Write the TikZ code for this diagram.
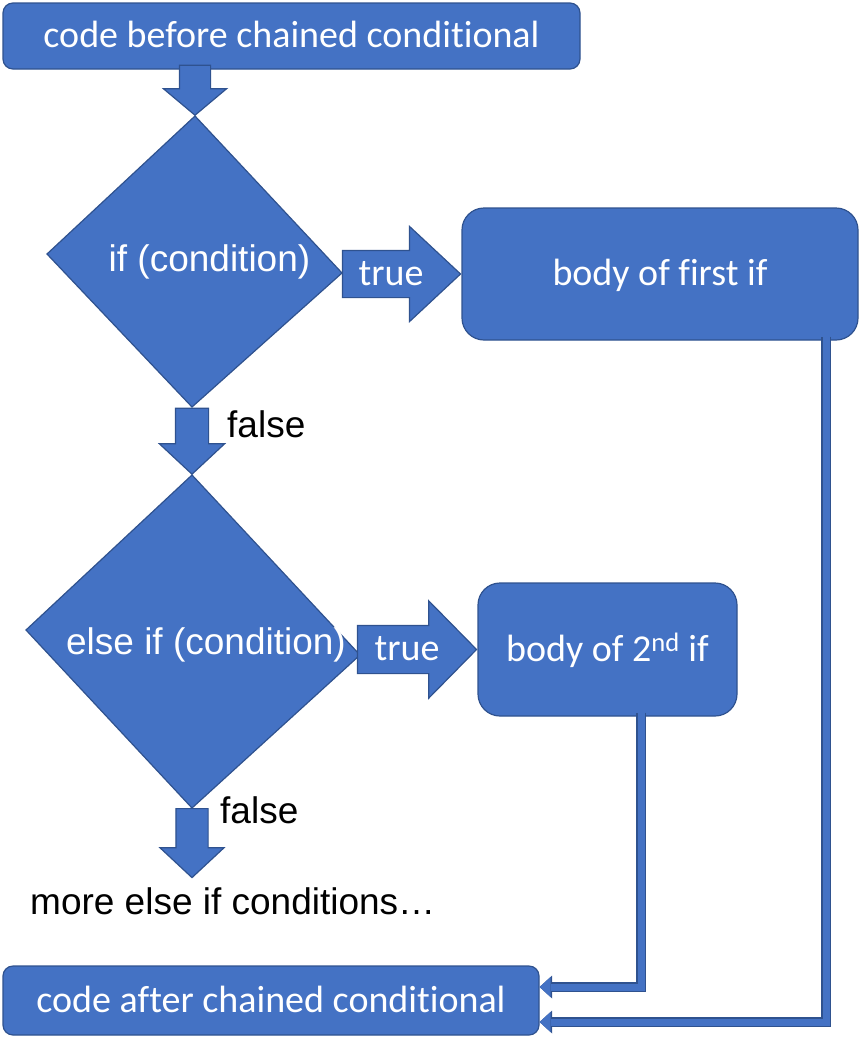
\documentclass[tikz,border=0pt]{standalone}
\usepackage{fontspec}
\setmainfont{Carlito}[Ligatures=NoCommon]
\newfontfamily\arialfont{Liberation Sans}
\usetikzlibrary{positioning,shapes.arrows,arrows.meta}

\definecolor{boxblue}{HTML}{4472C4}
\definecolor{edgeblue}{HTML}{2F528F}

\tikzset{
  codebox/.style={draw=edgeblue, fill=boxblue, line width=1.2pt, rounded corners=10pt,
    text=white, font=\fontsize{38}{42}\selectfont, text height=24pt, text depth=1pt, inner sep=0pt},
  bodybox/.style={codebox, rounded corners=22pt},
  decision/.style={draw=edgeblue, fill=boxblue, line width=1.2pt},
  condtext/.style={text=white, font=\arialfont\fontsize{37}{40}\selectfont, anchor=base, inner sep=0pt},
  plaintext/.style={text=black, font=\arialfont\fontsize{37}{40}\selectfont, anchor=base west, inner sep=0pt},
  truetext/.style={text=white, font=\fontsize{38}{42}\selectfont, anchor=base, inner sep=0pt},
  blockarrow/.style={single arrow, draw=edgeblue, fill=boxblue, line width=1.2pt, inner sep=0pt, text depth=0pt},
  link/.style={draw=boxblue, line width=7pt, -{Triangle[length=11pt,width=20pt,line width=0pt]},
    preaction={draw=edgeblue, line width=9.4pt, -{Triangle[length=12.5pt,width=23pt,line width=0pt]}}}
}

\begin{document}
\begin{tikzpicture}[x=1pt, y=-1pt]
	\useasboundingbox (0,0) rectangle (860,1045);
	
	\node[codebox, minimum width=577pt, minimum height=66pt] (before) at (291.5,36) {code before chained conditional};
	\node[codebox, minimum width=536pt, minimum height=69pt] (after) at (271,1000.5) {code after chained conditional};
	\node[bodybox, minimum width=396pt, minimum height=132pt] (body1) at (660,274) {body of first if};
	\node[bodybox, minimum width=259pt, minimum height=133pt] (body2) at (607.5,649.5) {body of 2\textsuperscript{nd} if};
	
	% first test
	\coordinate (c1t) at (195,116);
	\coordinate (c1r) at (342,273);
	\coordinate (c1b) at (192,407);
	\coordinate (c1l) at (47,254);
	\draw[decision] (c1t) -- (c1r) -- (c1b) -- (c1l) -- cycle;
	\node[condtext] (cond1) at (209.5,271) {if (condition)};
	
	% second test
	\coordinate (c2t) at (192,475);
	\coordinate (c2r) at (360,655);
	\coordinate (c2b) at (192,808);
	\coordinate (c2l) at (26,630);
	\draw[decision] (c2t) -- (c2r) -- (c2b) -- (c2l) -- cycle;
	\node[condtext] (cond2) at (206,654) {else if (condition)};
	
	% block arrows
	\node[blockarrow, rotate=-90, text height=30pt, minimum height=50pt,
		single arrow head extend=16pt, single arrow tip angle=100, anchor=tip] (down1) at (c1t) {};
	\node[blockarrow, rotate=-90, text height=32pt, minimum height=66pt,
		single arrow head extend=16pt, single arrow tip angle=94, anchor=tip] (false1) at (c2t) {};
	\node[blockarrow, rotate=-90, text height=31pt, minimum height=69pt,
		single arrow head extend=16pt, single arrow tip angle=94, anchor=tail] (false2) at (c2b) {};
	\node[blockarrow, text height=46pt, minimum height=118pt,
		single arrow head extend=24pt, single arrow tip angle=86, anchor=tip] (true1) at (body1.west) {};
	\node[blockarrow, text height=47pt, minimum height=119pt,
		single arrow head extend=24.5pt, single arrow tip angle=91, anchor=tip] (true2) at (body2.west) {};
	
	% labels
	\node[truetext] (yes1) at (391,285) {true};
	\node[truetext] (yes2) at (407,660) {true};
	\node[plaintext] (no1) at (227,437) {false};
	\node[plaintext] (no2) at (220,823) {false};
	\node[plaintext] (more) at (30,914) {more else if conditions…};
	
	% back to the code after
	\draw[link] ([yshift=4pt]body1.south -| 826,0) |- (after.east |- 0,1022);
	\draw[link] ([yshift=4pt]body2.south -| 641,0) |- (after.east |- 0,987);
\end{tikzpicture}
\end{document}
